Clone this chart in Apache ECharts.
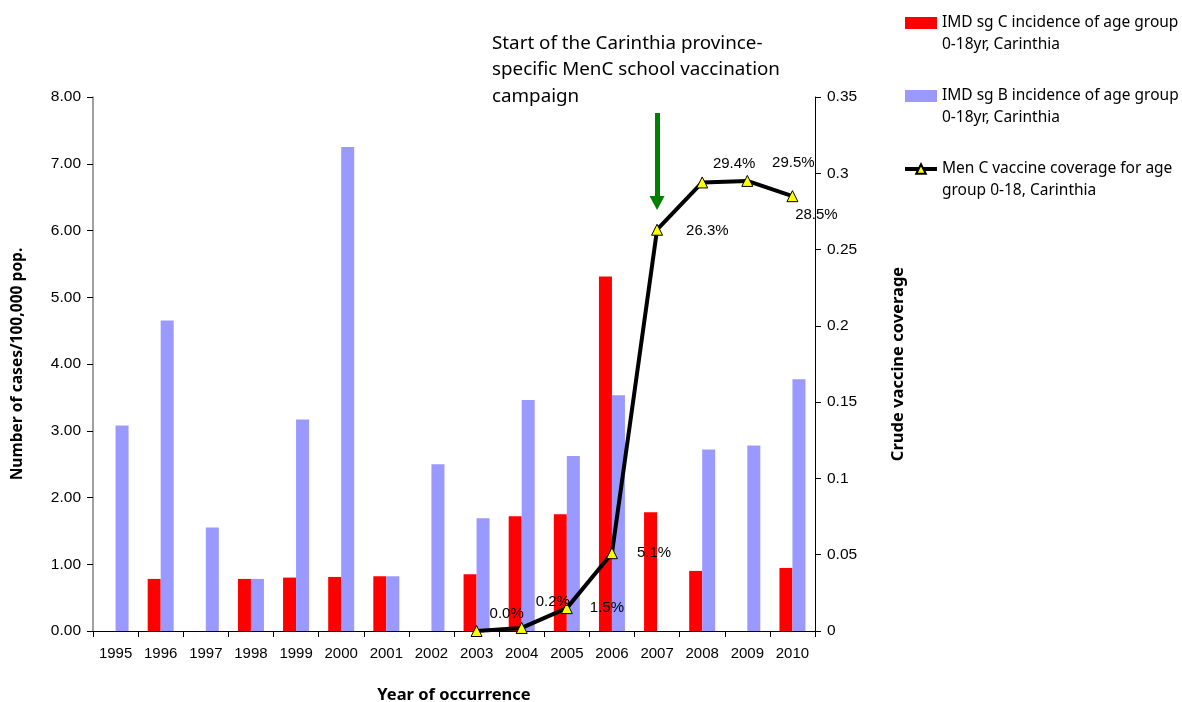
<!DOCTYPE html>
<html>
<head>
<meta charset="utf-8">
<script src="https://cdn.jsdelivr.net/npm/echarts@6/dist/echarts.min.js"></script>
<style>
  html, body { margin: 0; padding: 0; background: #fff; }
  #chart { width: 1182px; height: 702px; }
</style>
</head>
<body>
<div id="chart"></div>
<script>
// Years of occurrence
const years = ['1995','1996','1997','1998','1999','2000','2001','2002',
               '2003','2004','2005','2006','2007','2008','2009','2010'];

// IMD serogroup C incidence, age 0-18, cases per 100,000
const sgC = [null, 0.78, null, 0.78, 0.80, 0.81, 0.82, null,
             0.85, 1.72, 1.75, 5.31, 1.78, 0.90, null, 0.945];

// IMD serogroup B incidence, age 0-18, cases per 100,000
const sgB = [3.08, 4.65, 1.55, 0.78, 3.17, 7.25, 0.82, 2.50,
             1.69, 3.46, 2.62, 3.53, null, 2.72, 2.78, 3.77];

// MenC vaccine coverage (fraction), from 2003 on
const coverage = [null, null, null, null, null, null, null, null,
                  0.000, 0.002, 0.015, 0.051, 0.263, 0.294, 0.295, 0.285];

const leftTicks = { min: 0, max: 8, interval: 1 };
const rightTicks = { min: 0, max: 0.35, interval: 0.05 };

const nameC = 'IMD sg C incidence of age group\n0-18yr, Carinthia';
const nameB = 'IMD sg B incidence of age group\n0-18yr, Carinthia';
const nameCov = 'Men C vaccine coverage for age\ngroup 0-18, Carinthia';

// where each coverage label sits next to its marker
const covLabelPlacement = {
  '2003': { position: 'right', offset: [2, -17] },
  '2004': { position: 'right', offset: [3, -26] },
  '2005': { position: 'right', offset: [12, 0] },
  '2006': { position: 'right', offset: [14, 0] },
  '2007': { position: 'right', offset: [18, 1] },
  '2008': { position: 'top', offset: [32, 0] },
  '2009': { position: 'top', offset: [46, 0] },
  '2010': { position: 'bottom', offset: [24, 0] }
};

const tickFont = "'Liberation Sans', Arial, sans-serif";
const textFont = "'Noto Sans', 'DejaVu Sans', sans-serif";

const coverageData = coverage.map((v, i) => {
  const place = covLabelPlacement[years[i]];
  if (v === null) return null;
  return { value: v, label: place ? { position: place.position, offset: place.offset } : {} };
});

const titleStyle = size => ({ fontFamily: textFont, fontSize: size, fontWeight: 'bold', color: '#000' });

const chart = echarts.init(document.getElementById('chart'), null, { renderer: 'canvas' });

chart.setOption({
  animation: false,
  backgroundColor: '#ffffff',
  graphic: [{
    type: 'text',
    left: 492,
    top: 30,
    style: {
      text: 'Start of the Carinthia province-\nspecific MenC school vaccination\ncampaign',
      fontFamily: textFont,
      fontSize: 18.8,
      lineHeight: 26.5,
      fill: '#000'
    }
  }],
  legend: {
    orient: 'vertical',
    left: 903,
    top: -10,
    padding: 0,
    itemGap: 7,
    itemWidth: 32,
    itemHeight: 12,
    selectedMode: false,
    // blank first line keeps the icon level with the first text line
    formatter: name => '\u00a0\n' + name,
    textStyle: {
      fontFamily: textFont,
      fontSize: 15.5,
      lineHeight: 22,
      color: '#000'
    },
    data: [
      { name: nameC, icon: 'rect' },
      { name: nameB, icon: 'rect' },
      { name: nameCov, lineStyle: { width: 4, color: '#000' } }
    ]
  },
  grid: { left: 93, right: 367, top: 97, bottom: 71, outerBoundsMode: 'none', containLabel: false },
  xAxis: {
    type: 'category',
    data: years,
    boundaryGap: true,
    name: 'Year of occurrence',
    nameLocation: 'middle',
    nameGap: 56,
    nameTextStyle: titleStyle(16.5),
    axisLine: { lineStyle: { color: '#000', width: 1 } },
    axisTick: { show: true, length: 6, lineStyle: { color: '#000' } },
    axisLabel: { fontFamily: tickFont, fontSize: 15, color: '#000', margin: 15, interval: 0 },
    splitLine: { show: false }
  },
  yAxis: [{
    type: 'value',
    position: 'left',
    min: leftTicks.min,
    max: leftTicks.max,
    interval: leftTicks.interval,
    name: 'Number of cases/100,000 pop.',
    nameLocation: 'middle',
    nameRotate: 90,
    nameGap: 67,
    nameTextStyle: titleStyle(15.6),
    axisLine: { show: true, lineStyle: { color: '#808080', width: 1.5 } },
    axisTick: { show: true, length: 6, lineStyle: { color: '#000' } },
    axisLabel: { fontFamily: tickFont, fontSize: 15.5, color: '#000', margin: 12,
                 formatter: v => v.toFixed(2) },
    splitLine: { show: false }
  }, {
    type: 'value',
    position: 'right',
    min: rightTicks.min,
    max: rightTicks.max,
    interval: rightTicks.interval,
    name: 'Crude vaccine coverage',
    nameLocation: 'middle',
    nameRotate: 90,
    nameGap: 75,
    nameTextStyle: titleStyle(16.5),
    axisLine: { show: true, lineStyle: { color: '#000', width: 1 } },
    axisTick: { show: true, length: 6, lineStyle: { color: '#000' } },
    axisLabel: { fontFamily: tickFont, fontSize: 15.5, color: '#000', margin: 12,
                 formatter: v => String(+v.toFixed(2)) },
    splitLine: { show: false }
  }],
  series: [{
    name: nameC,
    type: 'bar',
    data: sgC,
    barWidth: 13,
    barGap: '0%',
    itemStyle: { color: '#ff0000' }
  }, {
    name: nameB,
    type: 'bar',
    data: sgB,
    barWidth: 13,
    barGap: '0%',
    itemStyle: { color: '#9999ff' }
  }, {
    name: nameCov,
    type: 'line',
    yAxisIndex: 1,
    data: coverageData,
    connectNulls: false,
    symbol: 'triangle',
    symbolSize: 11,
    showAllSymbol: true,
    z: 5,
    lineStyle: { color: '#000', width: 4 },
    itemStyle: { color: '#ffff00', borderColor: '#000', borderWidth: 1 },
    label: {
      show: true,
      fontFamily: tickFont,
      fontSize: 15,
      color: '#000',
      formatter: p => (p.value * 100).toFixed(1) + '%'
    },
    markLine: {
      silent: true,
      symbol: ['none', 'triangle'],
      symbolSize: [15, 14],
      label: { show: false },
      lineStyle: { color: '#008000', width: 5, type: 'solid' },
      itemStyle: { color: '#008000' },
      data: [[
        { coord: ['2007', 0.3395] },
        { coord: ['2007', 0.2805] }
      ]]
    }
  }]
});
</script>
</body>
</html>
